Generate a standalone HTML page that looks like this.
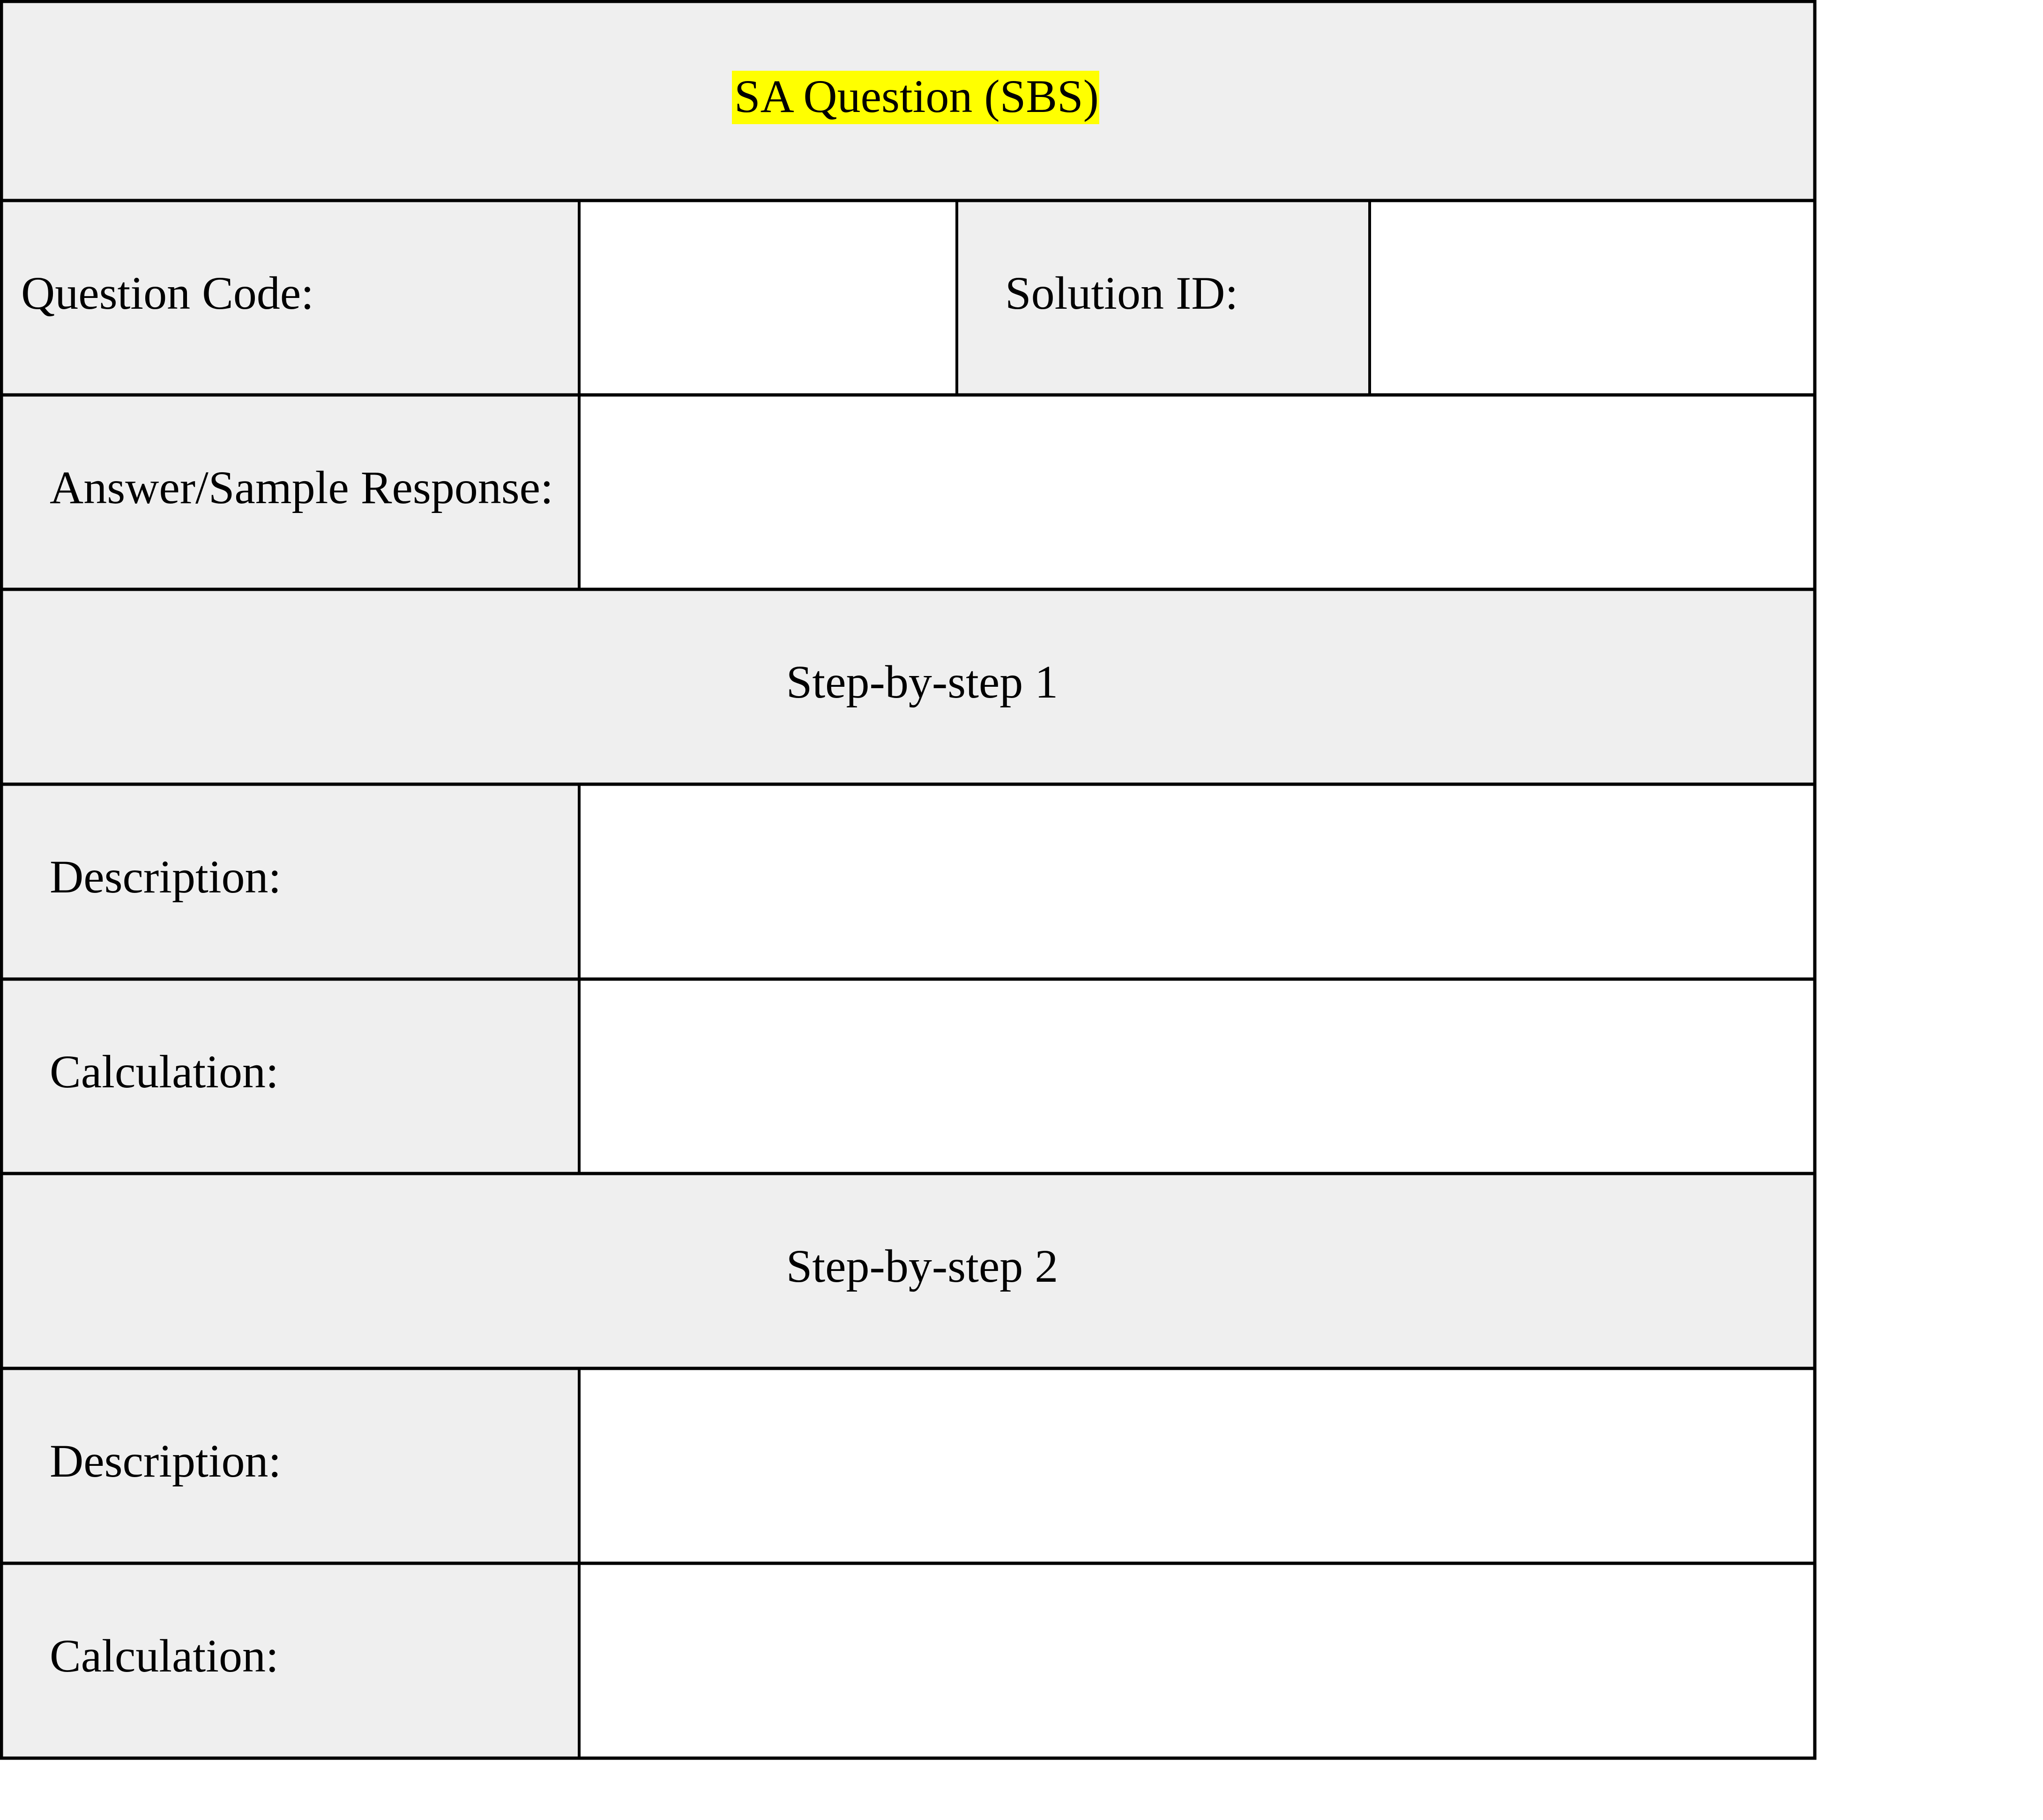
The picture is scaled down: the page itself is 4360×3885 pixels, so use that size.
<!DOCTYPE html>
<html><head><meta charset="utf-8"><style>
html,body{margin:0;padding:0;background:#fff;width:4360px;height:3885px;overflow:hidden}
svg{display:block}
text{font-family:"Liberation Serif","Times New Roman",serif;font-size:100px;fill:#000}
</style></head><body>
<svg width="4360" height="3885" viewBox="0 0 4360 3885" xmlns="http://www.w3.org/2000/svg">
<rect x="0" y="0" width="3873" height="3755" fill="#fff"/>
<rect x="3" y="3" width="3870" height="425" fill="#efefef"/>
<rect x="3" y="428" width="1235" height="3325" fill="#efefef"/>
<rect x="2042" y="428" width="881" height="415" fill="#efefef"/>
<rect x="3" y="1258" width="3870" height="415" fill="#efefef"/>
<rect x="3" y="2505" width="3870" height="416" fill="#efefef"/>
<rect x="1562" y="151" width="784" height="114" fill="#ffff00"/>
<g stroke="#000" stroke-width="7" fill="none">
<rect x="3" y="3" width="3870" height="3750"/>
<line x1="0" y1="428" x2="3876" y2="428"/>
<line x1="0" y1="843" x2="3876" y2="843"/>
<line x1="0" y1="1258" x2="3876" y2="1258"/>
<line x1="0" y1="1674" x2="3876" y2="1674"/>
<line x1="0" y1="2090" x2="3876" y2="2090"/>
<line x1="0" y1="2505" x2="3876" y2="2505"/>
<line x1="0" y1="2921" x2="3876" y2="2921"/>
<line x1="0" y1="3337" x2="3876" y2="3337"/>
</g>
<g stroke="#000" stroke-width="6">
<line x1="1236" y1="428" x2="1236" y2="1258"/>
<line x1="2042" y1="428" x2="2042" y2="843"/>
<line x1="2923" y1="428" x2="2923" y2="843"/>
<line x1="1236" y1="1674" x2="1236" y2="2505"/>
<line x1="1236" y1="2921" x2="1236" y2="3753"/>
</g>
<text x="1956" y="239" text-anchor="middle">SA Question (SBS)</text>
<text x="45" y="659">Question Code:</text>
<text x="2145" y="659">Solution ID:</text>
<text x="106" y="1074">Answer/Sample Response:</text>
<text x="1968" y="1489" text-anchor="middle">Step-by-step 1</text>
<text x="106" y="1905">Description:</text>
<text x="106" y="2321">Calculation:</text>
<text x="1968" y="2736" text-anchor="middle">Step-by-step 2</text>
<text x="106" y="3152">Description:</text>
<text x="106" y="3568">Calculation:</text>
</svg>
</body></html>
